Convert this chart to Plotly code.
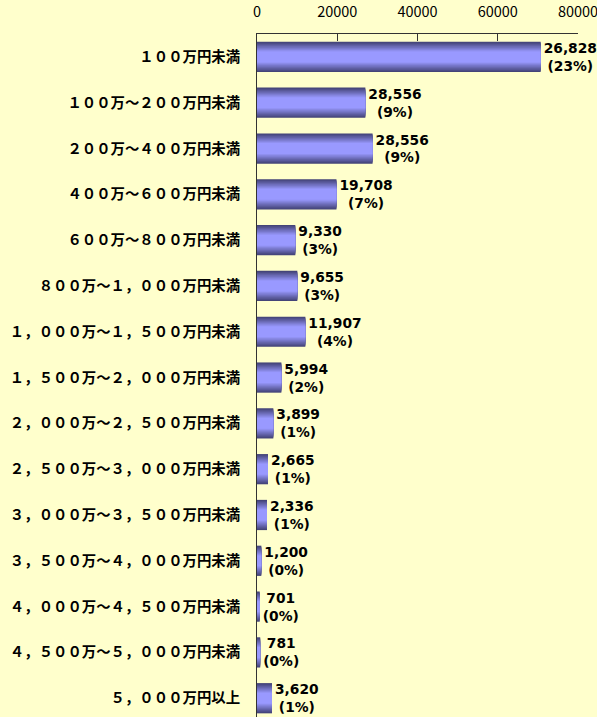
import plotly.graph_objects as go

categories = [
    "１００万円未満",
    "１００万～２００万円未満",
    "２００万～４００万円未満",
    "４００万～６００万円未満",
    "６００万～８００万円未満",
    "８００万～１，０００万円未満",
    "１，０００万～１，５００万円未満",
    "１，５００万～２，０００万円未満",
    "２，０００万～２，５００万円未満",
    "２，５００万～３，０００万円未満",
    "３，０００万～３，５００万円未満",
    "３，５００万～４，０００万円未満",
    "４，０００万～４，５００万円未満",
    "４，５００万～５，０００万円未満",
    "５，０００万円以上",
]
bar_values = [70700, 27000, 28800, 19800, 9550, 10050, 12050, 6070, 4070, 2750, 2500, 1080, 680, 800, 3740]
value_labels = ["26,828", "28,556", "28,556", "19,708", "9,330", "9,655", "11,907", "5,994",
                "3,899", "2,665", "2,336", "1,200", "701", "781", "3,620"]
percent_labels = ["(23%)", "(9%)", "(9%)", "(7%)", "(3%)", "(3%)", "(4%)", "(2%)",
                  "(1%)", "(1%)", "(1%)", "(0%)", "(0%)", "(0%)", "(1%)"]
x_ticks = [0, 20000, 40000, 60000, 80000]

texts = [f"{v}<br>{p}" for v, p in zip(value_labels, percent_labels)]

BG = "#FFFFCC"
dark = (68, 68, 120)
light = (153, 153, 255)
n_layers = 10
w_outer, w_inner = 0.66, 0.24

fig = go.Figure()
for k in range(n_layers):
    t = k / (n_layers - 1)
    c = tuple(round(dark[i] + (light[i] - dark[i]) * t) for i in range(3))
    w = w_outer - (w_outer - w_inner) * t
    fig.add_trace(go.Bar(
        y=categories, x=bar_values, orientation="h",
        width=w,
        marker=dict(color=f"rgb{c}", line=dict(width=0)),
        text=texts if k == 0 else None,
        textposition="outside" if k == 0 else "none",
        textfont=dict(family="DejaVu Sans", size=13.8, color="black", weight="bold"),
        constraintext="none",
        cliponaxis=False,
        hoverinfo="skip",
        showlegend=False,
    ))

n = len(categories)
fig.update_layout(
    width=597, height=717,
    barmode="overlay",
    paper_bgcolor=BG, plot_bgcolor=BG,
    margin=dict(l=257, r=19, t=34, b=0),
    xaxis=dict(
        side="top", range=[0, 80000], tickvals=x_ticks, ticktext=[str(v) for v in x_ticks],
        showgrid=False, zeroline=False,
        showline=True, linecolor="#333333", linewidth=1,
        ticks="inside", ticklen=7, tickcolor="#333333",
        tickfont=dict(family="Noto Sans CJK JP", size=14.5, color="black"),
        ticklabelstandoff=10,
        ticklabeloverflow="allow",
    ),
    yaxis=dict(
        type="category", categoryorder="array", categoryarray=categories,
        range=[n - 0.5 - 0.09, -0.5],
        showgrid=False, zeroline=False,
        showline=True, linecolor="#333333", linewidth=1,
        ticks="",
        tickfont=dict(family="Noto Sans CJK JP", size=14.4, color="black", weight="bold"),
        ticklabelstandoff=13,
    ),
)

fig.write_html("out.html")
